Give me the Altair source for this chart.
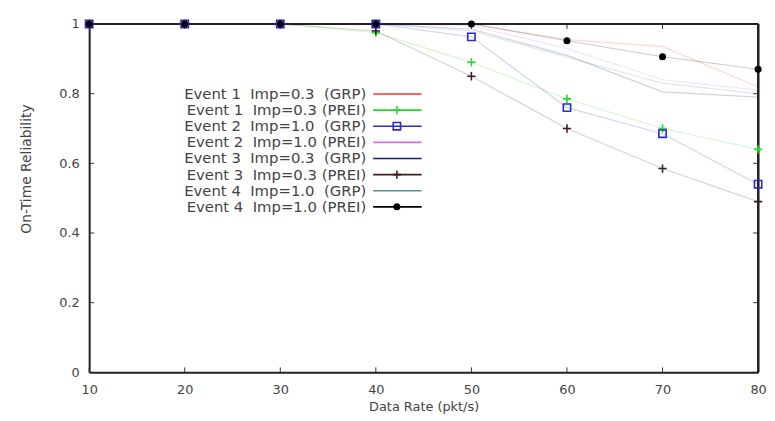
import altair as alt
import pandas as pd

NB = "\u00a0"
rates = [10, 20, 30, 40, 50, 60, 70, 80]
series_names = [
    "Event 1" + NB + " Imp=0.3" + NB + " (GRP)",
    "Event 1" + NB + " Imp=0.3 (PREI)",
    "Event 2" + NB + " Imp=1.0" + NB + " (GRP)",
    "Event 2" + NB + " Imp=1.0 (PREI)",
    "Event 3" + NB + " Imp=0.3" + NB + " (GRP)",
    "Event 3" + NB + " Imp=0.3 (PREI)",
    "Event 4" + NB + " Imp=1.0" + NB + " (GRP)",
    "Event 4" + NB + " Imp=1.0 (PREI)",
]
e1_grp = [1, 1, 1, 1, 1.0, 0.955, 0.935, 0.82]
e1_prei = [1, 1, 1, 0.975, 0.89, 0.785, 0.70, 0.64]
e2_grp = [1, 1, 1, 1, 0.963, 0.76, 0.685, 0.54]
e2_prei = [1, 1, 1, 1, 0.995, 0.93, 0.84, 0.81]
e3_grp = [1, 1, 1, 1, 0.985, 0.91, 0.805, 0.79]
e3_prei = [1, 1, 1, 0.98, 0.85, 0.70, 0.585, 0.49]
e4_grp = [1, 1, 1, 1, 0.98, 0.905, 0.83, 0.80]
e4_prei = [1, 1, 1, 1, 1.0, 0.952, 0.906, 0.87]
series_values = [e1_grp, e1_prei, e2_grp, e2_prei, e3_grp, e3_prei, e4_grp, e4_prei]
series_colors = ["#ff3030", "#22dd22", "#2a2acc", "#d070f0", "#1a1a70", "#3a2020", "#5c8c8c", "#000000"]

x_ticks = [10, 20, 30, 40, 50, 60, 70, 80]
y_ticks = [0, 0.2, 0.4, 0.6, 0.8, 1.0]

rows = []
for name, vals in zip(series_names, series_values):
    for r, v in zip(rates, vals):
        rows.append({"series": name, "rate": r, "rel": v})
df = pd.DataFrame(rows)
legend_df = pd.DataFrame({"series": series_names, "row": list(range(len(series_names)))})
xt_df = pd.DataFrame({"rate": x_ticks})
yt_df = pd.DataFrame({"rel": y_ticks})

plus_series = [series_names[1], series_names[5]]
square_series = [series_names[2]]
circle_series = [series_names[7]]
PLUS = "M-1,0H1M0,-1V1"

FONT = "DejaVu Sans"
TXT = "#444444"
W, H = 676, 352

color = alt.Color("series:N", scale=alt.Scale(domain=series_names, range=series_colors), legend=None)
xenc = alt.X("rate:Q", scale=alt.Scale(domain=[10, 80], nice=False, zero=False),
             axis=alt.Axis(values=x_ticks, title="Data Rate (pkt/s)", labelFlush=False, labelOverlap=False,
                           tickSize=0, domain=True, domainColor="#222", domainWidth=2, grid=False,
                           labelPadding=11, labelFontSize=13,
                           labelColor=TXT, labelFont=FONT, titleFont=FONT, titleFontSize=13,
                           titleFontWeight="normal", titleColor=TXT, titlePadding=5))
yenc = alt.Y("rel:Q", scale=alt.Scale(domain=[0, 1], nice=False),
             axis=alt.Axis(values=y_ticks, format="~g", title="On-Time Reliability", labelFlush=False,
                           tickSize=0, domain=True, domainColor="#222", domainWidth=2, grid=False,
                           labelPadding=10, labelFontSize=13,
                           labelColor=TXT, labelFont=FONT, titleFont=FONT, titleFontSize=14,
                           titleFontWeight="normal", titleColor=TXT, titlePadding=26, titleY=146))

base = alt.Chart(df)
lines = base.mark_line(strokeWidth=1.2, opacity=0.2).encode(x=xenc, y=yenc, color=color, detail="series:N")
pluses = base.transform_filter(alt.FieldOneOfPredicate(field="series", oneOf=plus_series)).mark_point(
    shape=PLUS, filled=False, size=70, strokeWidth=1.6, opacity=1).encode(x="rate:Q", y="rel:Q", color=color)
squares = base.transform_filter(alt.FieldOneOfPredicate(field="series", oneOf=square_series)).mark_point(
    shape="square", filled=False, size=55, strokeWidth=1.6, opacity=1).encode(x="rate:Q", y="rel:Q", color=color)
circles = base.transform_filter(alt.FieldOneOfPredicate(field="series", oneOf=circle_series)).mark_point(
    shape="circle", filled=True, size=50, opacity=1).encode(x="rate:Q", y="rel:Q", color=color)

tick_b = alt.Chart(xt_df).mark_rule(color="#333", strokeWidth=1).encode(x="rate:Q", y=alt.value(H), y2=alt.value(H - 5))
tick_t = alt.Chart(xt_df).mark_rule(color="#333", strokeWidth=1).encode(x="rate:Q", y=alt.value(0), y2=alt.value(5))
tick_l = alt.Chart(yt_df).mark_rule(color="#333", strokeWidth=1).encode(y="rel:Q", x=alt.value(0), x2=alt.value(5))
tick_r = alt.Chart(yt_df).mark_rule(color="#333", strokeWidth=1).encode(y="rel:Q", x=alt.value(W), x2=alt.value(W - 5))
border_t = alt.Chart(xt_df).mark_rule(color="#222", strokeWidth=2).encode(x=alt.value(0), x2=alt.value(W), y=alt.value(0))
border_r = alt.Chart(xt_df).mark_rule(color="#222", strokeWidth=2).encode(x=alt.value(W), y=alt.value(0), y2=alt.value(H))

main = alt.layer(lines, tick_b, tick_t, tick_l, tick_r, border_t, border_r, pluses, squares, circles)

ly = alt.Y("row:Q", axis=None, scale=alt.Scale(domain=[-4.34, 17.26], reverse=True, nice=False, zero=False))
lbase = alt.Chart(legend_df)
ltext = lbase.mark_text(align="right", baseline="middle", fontSize=15, font=FONT, color=TXT).encode(
    y=ly, x=alt.value(280), text="series:N")
lrule = lbase.mark_rule(strokeWidth=1.6).encode(y=ly, x=alt.value(287), x2=alt.value(336), color=color)
lplus = lbase.transform_filter(alt.FieldOneOfPredicate(field="series", oneOf=plus_series)).mark_point(
    shape=PLUS, filled=False, size=70, strokeWidth=1.6, opacity=1).encode(y=ly, x=alt.value(311), color=color)
lsq = lbase.transform_filter(alt.FieldOneOfPredicate(field="series", oneOf=square_series)).mark_point(
    shape="square", filled=False, size=55, strokeWidth=1.6, opacity=1).encode(y=ly, x=alt.value(311), color=color)
lcirc = lbase.transform_filter(alt.FieldOneOfPredicate(field="series", oneOf=circle_series)).mark_point(
    shape="circle", filled=True, size=50, opacity=1).encode(y=ly, x=alt.value(311), color=color)
legend = alt.layer(ltext, lrule, lplus, lsq, lcirc)

chart = alt.layer(main, legend).resolve_scale(y="independent").properties(
    width=W, height=H,
    autosize=alt.AutoSizeParams(type="none"),
    padding={"left": 82, "top": 14, "right": 9, "bottom": 45},
).configure_view(stroke="#222222", strokeWidth=2).configure(background="white")

chart.save("out.html", embed_options={"renderer": "svg", "actions": False})
